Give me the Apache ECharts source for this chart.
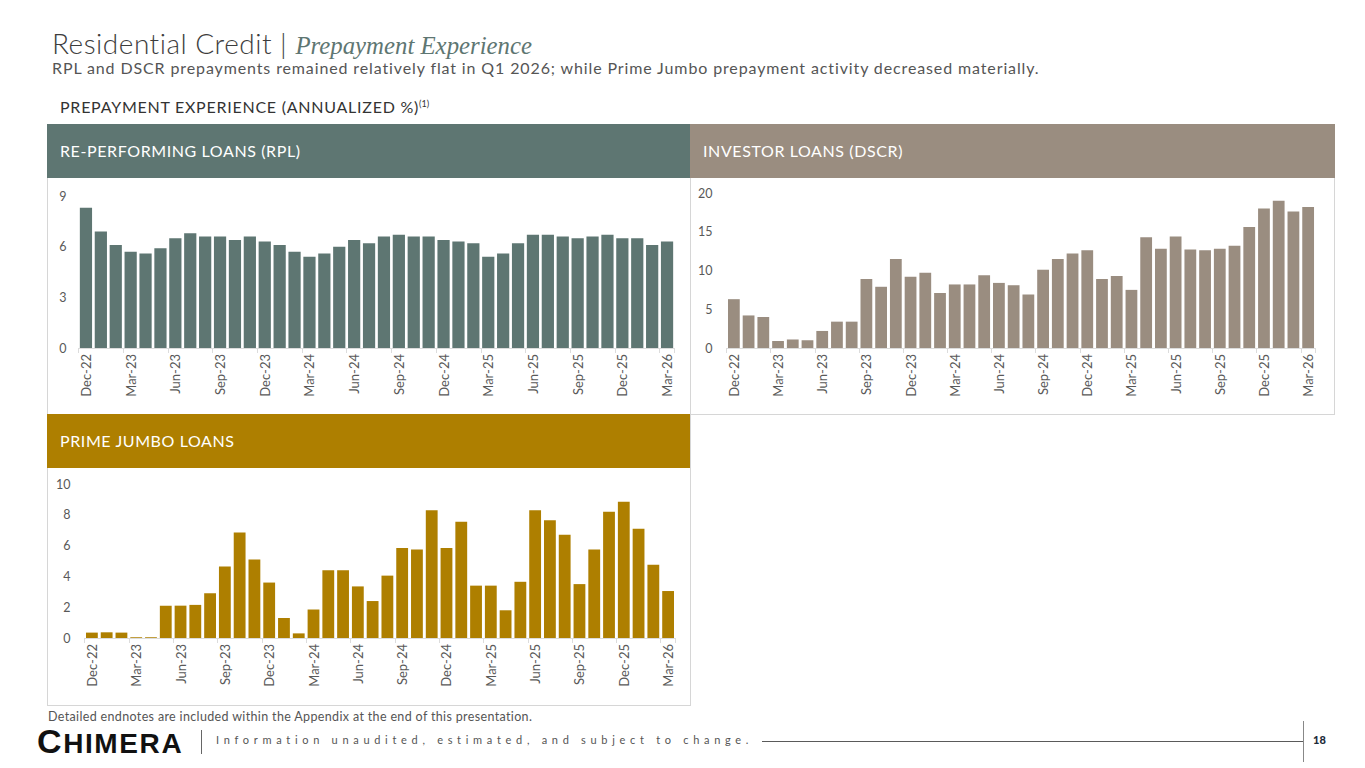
<!DOCTYPE html>
<html>
<head>
<meta charset="utf-8">
<script src="https://cdn.jsdelivr.net/npm/echarts@6/dist/echarts.min.js"></script>
<style>
  body { margin: 0; background: #fff; font-family: 'Lato', 'Open Sans', sans-serif; }
  #page { position: relative; width: 1365px; height: 768px; overflow: hidden; }
  #chart { position: absolute; left: 0; top: 0; width: 1365px; height: 768px; }
  .abs { position: absolute; white-space: nowrap; }
  .band { position: absolute; height: 54px; color: #fff; font-size: 16px; letter-spacing: 0.6px; line-height: 54px; padding-left: 13px; box-sizing: border-box; }
  .box { position: absolute; border: 1px solid #d6d6d6; box-sizing: border-box; }
</style>
</head>
<body>
<div id="page">
  <div class="box" style="left:47px;top:124px;width:1288px;height:291px;"></div>
  <div class="box" style="left:47px;top:414px;width:644px;height:292px;"></div>
  <div class="abs" style="left:690px;top:178px;width:1px;height:237px;background:#d6d6d6;"></div>
  <div id="chart"></div>

  <div class="abs" style="left:52px;top:26px;font-size:28px;color:#3d3d3d;font-weight:300;letter-spacing:0.5px;">Residential Credit | <span style="font-family:'Liberation Serif',serif;font-style:italic;color:#5e7672;font-size:24.8px;letter-spacing:0;">Prepayment Experience</span></div>
  <div class="abs" style="left:52px;top:58px;font-size:16px;letter-spacing:0.88px;color:#555;">RPL and DSCR prepayments remained relatively flat in Q1 2026; while Prime Jumbo prepayment activity decreased materially.</div>
  <div class="abs" style="left:60px;top:97px;font-size:16px;letter-spacing:0.75px;color:#333;">PREPAYMENT EXPERIENCE (ANNUALIZED %)<sup style="font-size:9px;letter-spacing:0;">(1)</sup></div>

  <div class="band" style="left:47px;top:124px;width:643px;background:#5e7672;">RE-PERFORMING LOANS (RPL)</div>
  <div class="band" style="left:690px;top:124px;width:645px;background:#9a8d80;">INVESTOR LOANS (DSCR)</div>
  <div class="band" style="left:47px;top:414px;width:643px;background:#ae7f00;">PRIME JUMBO LOANS</div>

  <div class="abs" style="left:48px;top:709px;font-size:12.5px;letter-spacing:0.35px;color:#555;">Detailed endnotes are included within the Appendix at the end of this presentation.</div>
  <div class="abs" style="left:37px;top:722px;font-family:'Liberation Sans',sans-serif;font-weight:bold;color:#111;font-size:28px;letter-spacing:1.6px;"><span style="font-size:34px;">C</span>HIMERA</div>
  <div class="abs" style="left:201px;top:730px;width:1px;height:24px;background:#666;"></div>
  <div class="abs" style="left:216px;top:733px;font-size:11px;color:#555;letter-spacing:4.7px;">Information unaudited, estimated, and subject to change.</div>
  <div class="abs" style="left:762px;top:741px;width:541px;height:1px;background:#5a5a5a;"></div>
  <div class="abs" style="left:1303px;top:721px;width:1px;height:41px;background:#888;"></div>
  <div class="abs" style="left:1313px;top:733px;font-size:11px;font-weight:900;color:#1c2b39;">18</div>
</div>
<script>
// month categories, Dec-22 .. Mar-26
const months = [
  'Dec-22', 'Jan-23', 'Feb-23', 'Mar-23', 'Apr-23', 'May-23', 'Jun-23', 'Jul-23', 'Aug-23', 'Sep-23',
  'Oct-23', 'Nov-23', 'Dec-23', 'Jan-24', 'Feb-24', 'Mar-24', 'Apr-24', 'May-24', 'Jun-24', 'Jul-24',
  'Aug-24', 'Sep-24', 'Oct-24', 'Nov-24', 'Dec-24', 'Jan-25', 'Feb-25', 'Mar-25', 'Apr-25', 'May-25',
  'Jun-25', 'Jul-25', 'Aug-25', 'Sep-25', 'Oct-25', 'Nov-25', 'Dec-25', 'Jan-26', 'Feb-26', 'Mar-26'
]

// annualized prepayment %
const rplValues = [
  8.3, 6.9, 6.1, 5.7, 5.6, 5.9, 6.5, 6.8, 6.6, 6.6,
  6.4, 6.6, 6.3, 6.1, 5.7, 5.4, 5.6, 6.0, 6.4, 6.2,
  6.6, 6.7, 6.6, 6.6, 6.4, 6.3, 6.2, 5.4, 5.6, 6.2,
  6.7, 6.7, 6.6, 6.5, 6.6, 6.7, 6.5, 6.5, 6.1, 6.3
]
const dscrValues = [
  6.3, 4.2, 4.0, 0.9, 1.1, 1.0, 2.2, 3.4, 3.4, 8.9,
  7.9, 11.5, 9.2, 9.7, 7.1, 8.2, 8.2, 9.4, 8.4, 8.1,
  6.9, 10.1, 11.5, 12.2, 12.6, 8.9, 9.3, 7.5, 14.3, 12.8,
  14.4, 12.7, 12.6, 12.8, 13.2, 15.6, 18.0, 19.0, 17.6, 18.2
]
const jumboValues = [
  0.35, 0.37, 0.35, 0.05, 0.05, 2.1, 2.1, 2.15, 2.9, 4.65,
  6.85, 5.1, 3.6, 1.3, 0.3, 1.85, 4.4, 4.4, 3.35, 2.4,
  4.05, 5.85, 5.75, 8.3, 5.85, 7.55, 3.4, 3.4, 1.8, 3.65,
  8.3, 7.65, 6.7, 3.5, 5.75, 8.2, 8.85, 7.1, 4.75, 3.05
]

const rplColor = '#5e7672'
const dscrColor = '#9a8d80'
const jumboColor = '#ae7f00'
const labelColor = '#595959'

var chartDom = document.getElementById('chart')
var myChart = echarts.init(chartDom, null, { renderer: 'svg' })

const xAxisBase = (gridIndex) => ({
  type: 'category',
  gridIndex: gridIndex,
  data: months,
  axisLine: { show: true, lineStyle: { color: '#dcdcdc', width: 1 } },
  axisTick: { show: true, interval: 2, length: 5, lineStyle: { color: '#dcdcdc' } },
  axisLabel: { interval: 2, rotate: 90, color: labelColor, fontSize: 13, margin: 6, fontFamily: 'Lato' }
})

const yAxisBase = (gridIndex, max, interval, margin) => ({
  type: 'value',
  gridIndex: gridIndex,
  min: 0,
  max: max,
  interval: interval,
  splitLine: { show: false },
  axisLine: { show: false },
  axisTick: { show: false },
  axisLabel: { color: labelColor, fontSize: 12.5, margin: margin, fontFamily: 'Lato' }
})

const option = {
  animation: false,
  grid: [
    { left: 78.5, top: 196, width: 596, height: 152 },
    { left: 726.5, top: 193, width: 589, height: 155 },
    { left: 84.5, top: 484, width: 591, height: 154 }
  ],
  xAxis: [xAxisBase(0), xAxisBase(1), xAxisBase(2)],
  yAxis: [
    yAxisBase(0, 9, 3, 12),
    yAxisBase(1, 20, 5, 14),
    yAxisBase(2, 10, 2, 14)
  ],
  series: [
    { type: 'bar', xAxisIndex: 0, yAxisIndex: 0, data: rplValues, barCategoryGap: '18%', itemStyle: { color: rplColor } },
    { type: 'bar', xAxisIndex: 1, yAxisIndex: 1, data: dscrValues, barCategoryGap: '20%', itemStyle: { color: dscrColor } },
    { type: 'bar', xAxisIndex: 2, yAxisIndex: 2, data: jumboValues, barCategoryGap: '20%', itemStyle: { color: jumboColor } }
  ]
}

option && myChart.setOption(option)
</script>
</body>
</html>
